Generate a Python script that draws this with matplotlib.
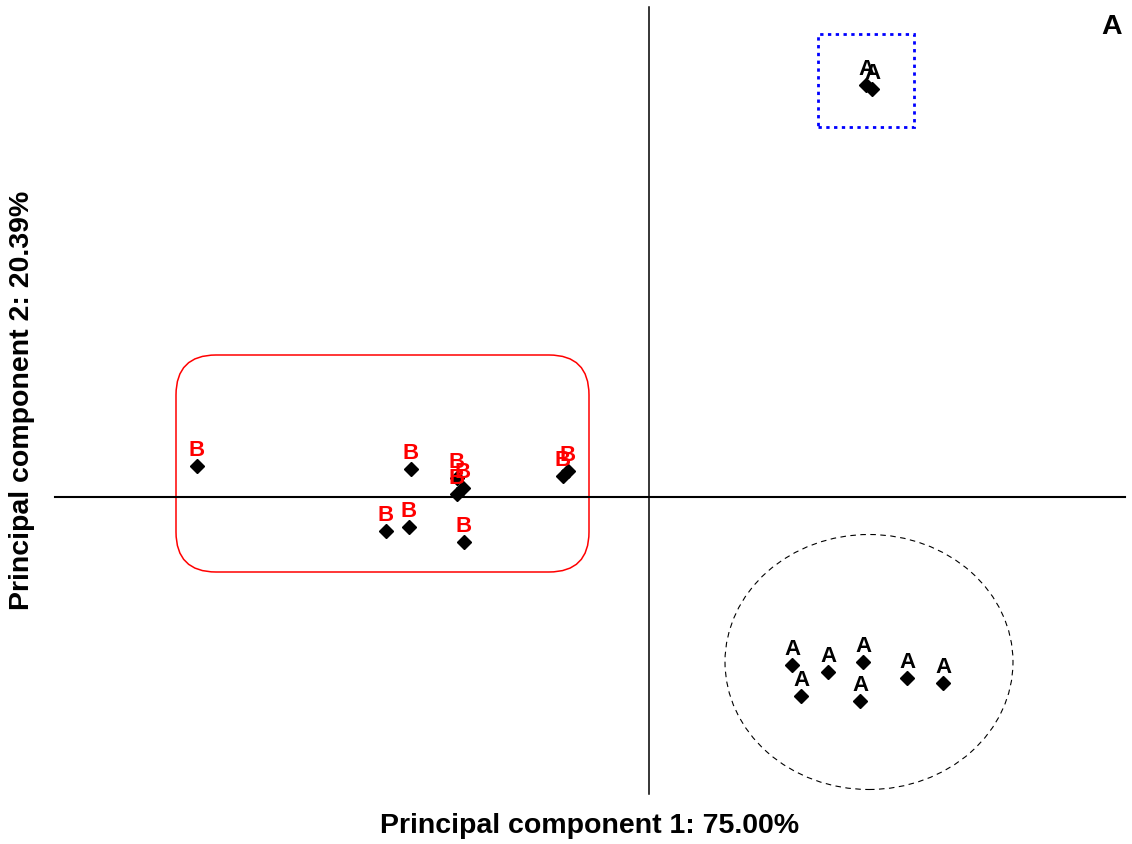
import numpy as np
import matplotlib.pyplot as plt
from matplotlib.patches import Rectangle, Ellipse, FancyBboxPatch

plt.rcParams['font.family'] = ['Liberation Sans', 'DejaVu Sans']

# PCA scores, group B (left cluster)
b_pc1 = [-4.52, -2.38, -2.63, -2.40, -1.85, -1.92, -1.86, -1.92, -0.86, -0.81]
b_pc2 = [0.31, 0.28, -0.34, -0.30, -0.45, 0.03, 0.09, 0.19, 0.21, 0.26]

# group A, upper outliers
a_top_pc1 = [2.17, 2.23]
a_top_pc2 = [4.12, 4.08]

# group A, lower right cluster
a_pc1 = [1.43, 1.52, 1.79, 2.14, 2.11, 2.58, 2.94]
a_pc2 = [-1.68, -1.99, -1.75, -1.65, -2.04, -1.81, -1.86]

fig = plt.figure(figsize=(11.32, 8.45), dpi=100)
ax = fig.add_axes([0, 0, 1, 1])
ax.set_xlim(-6.49, 4.83)
ax.set_ylim(-3.47, 4.98)
ax.axis('off')

# axes through the origin
ax.plot([-5.94, 4.76], [0, 0], color='black', lw=1.5)
ax.plot([0, 0], [-2.97, 4.90], color='black', lw=1.1)

def scatter_labeled(ax, xs, ys, label, color):
    ax.plot(xs, ys, 'D', color='black', ms=7, ls='none', zorder=3)
    for x, y in zip(xs, ys):
        ax.annotate(label, (x, y), xytext=(0, 4), textcoords='offset points',
                    ha='center', va='bottom', fontsize=16, fontweight='bold',
                    color=color, zorder=4)

scatter_labeled(ax, b_pc1, b_pc2, 'B', 'red')
scatter_labeled(ax, a_top_pc1, a_top_pc2, 'A', 'black')
scatter_labeled(ax, a_pc1, a_pc2, 'A', 'black')

# group outlines
ax.add_patch(FancyBboxPatch((-4.73, -0.75), 4.13, 2.17,
                            boxstyle='round,pad=0,rounding_size=0.4',
                            fill=False, edgecolor='red', lw=1.1))
ax.add_patch(Rectangle((1.69, 3.70), 0.96, 0.93, fill=False,
                       edgecolor='blue', lw=2, ls=(0, (1.2, 1.6))))
ax.add_patch(Ellipse((2.20, -1.65), 2.88, 2.55, fill=False,
                     edgecolor='black', lw=0.8, ls=(0, (5, 4))))

ax.text(4.63, 4.71, 'A', fontsize=20.5, fontweight='bold', ha='center', va='center')
ax.text(-0.59, -3.28, 'Principal component 1: 75.00%', fontsize=20.5,
        fontweight='bold', ha='center', va='center')
ax.text(-6.27, 0.98, 'Principal component 2: 20.39%', fontsize=20.5,
        fontweight='bold', ha='center', va='center', rotation=90)

fig.savefig('out.png', dpi=100)
